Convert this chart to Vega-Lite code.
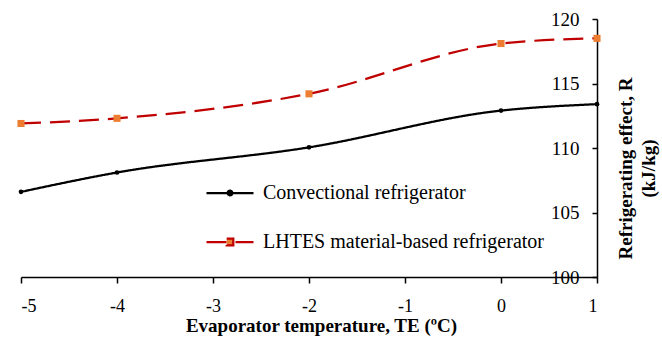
{
  "$schema": "https://vega.github.io/schema/vega-lite/v6.json",
  "width": 576,
  "height": 258,
  "autosize": {"type": "none"},
  "padding": {"left": 21, "top": 19, "right": 65, "bottom": 61},
  "background": "white",
  "config": {
    "view": {"stroke": null},
    "font": "Liberation Serif, Times New Roman, serif"
  },
  "data": {
    "values": [
      {"x": -5, "R": 106.6, "series": "Convectional refrigerator"},
      {"x": -4, "R": 108.1, "series": "Convectional refrigerator"},
      {"x": -2, "R": 110.05, "series": "Convectional refrigerator"},
      {"x": 0, "R": 112.9, "series": "Convectional refrigerator"},
      {"x": 1, "R": 113.4, "series": "Convectional refrigerator"},
      {"x": -5, "R": 111.9, "series": "LHTES material-based refrigerator"},
      {"x": -4, "R": 112.3, "series": "LHTES material-based refrigerator"},
      {"x": -2, "R": 114.2, "series": "LHTES material-based refrigerator"},
      {"x": 0, "R": 118.1, "series": "LHTES material-based refrigerator"},
      {"x": 1, "R": 118.5, "series": "LHTES material-based refrigerator"}
    ]
  },
  "encoding": {
    "x": {
      "field": "x", "type": "quantitative",
      "scale": {"domain": [-5, 1], "nice": false, "zero": false},
      "axis": {
        "values": [-5, -4, -3, -2, -1, 0, 1],
        "labelExpr": "datum.value",
        "grid": false,
        "domainColor": "#000000", "domainWidth": 1.5,
        "tickColor": "#000000", "tickSize": 6, "tickWidth": 1.5,
        "labelFont": "Liberation Serif, Times New Roman, serif", "labelFontSize": 18, "labelColor": "#000000",
        "labelPadding": 14,
        "title": "Evaporator temperature, TE (ºC)",
        "titleFont": "Liberation Serif, Times New Roman, serif", "titleFontSize": 19, "titleFontWeight": "bold", "titleColor": "#000000",
        "titlePadding": 1, "titleX": 300, "titleAlign": "center"
      }
    },
    "y": {
      "field": "R", "type": "quantitative",
      "scale": {"domain": [100, 120], "nice": false, "zero": false},
      "axis": {
        "orient": "left", "offset": -576,
        "values": [100, 105, 110, 115, 120],
        "grid": false,
        "domainColor": "#000000", "domainWidth": 1.5,
        "tickColor": "#000000", "tickSize": 5, "tickWidth": 1.5,
        "labelFont": "Liberation Serif, Times New Roman, serif", "labelFontSize": 19, "labelColor": "#000000",
        "labelPadding": 13,
        "title": ["Refrigerating effect, R", "(kJ/kg)"],
        "titleFont": "Liberation Serif, Times New Roman, serif", "titleFontSize": 19, "titleFontWeight": "bold", "titleColor": "#000000",
        "titleAngle": 270, "titleX": 28, "titleY": 149, "titleAlign": "center", "titleBaseline": "middle",
        "titleLineHeight": 23
      }
    }
  },
  "layer": [
    {
      "mark": {"type": "line", "interpolate": "monotone", "strokeWidth": 2.25},
      "encoding": {
        "stroke": {
          "field": "series", "type": "nominal",
          "scale": {"domain": ["Convectional refrigerator", "LHTES material-based refrigerator"], "range": ["#000000", "#C00000"]},
          "legend": {
            "orient": "none", "legendX": 184, "legendY": 149,
            "title": null, "padding": 0,
            "symbolSize": 2209, "symbolStrokeWidth": 2.25,
            "labelFont": "Liberation Serif, Times New Roman, serif", "labelFontSize": 20, "labelColor": "#000000",
            "labelOffset": 8, "rowPadding": 14, "labelLimit": 400,
            "encode": {
              "symbols": {
                "update": {
                  "fill": {"signal": "datum.value === 'Convectional refrigerator' ? '#000000' : '#ED7D31'"},
                  "fillOpacity": {"value": 1},
                  "shape": {"signal": "datum.value === 'Convectional refrigerator' ? 'M-1,0H1M0.1,0A0.1,0.1,0,1,1,-0.1,0A0.1,0.1,0,1,1,0.1,0Z' : 'M-1,0H1M-0.14,-0.14H0.14V0.14H-0.14Z'"},
                  "strokeDash": {"signal": "datum.value === 'Convectional refrigerator' ? [1,0] : [20,9]"}
                }
              }
            }
          }
        },
        "strokeDash": {
          "field": "series", "type": "nominal",
          "scale": {"domain": ["Convectional refrigerator", "LHTES material-based refrigerator"], "range": [[1, 0], [20, 9]]},
          "legend": null
        }
      }
    },
    {
      "transform": [{"filter": "datum.series === 'Convectional refrigerator'"}],
      "mark": {"type": "point", "shape": "circle", "filled": true, "size": 22, "color": "#000000", "opacity": 1}
    },
    {
      "transform": [{"filter": "datum.series === 'LHTES material-based refrigerator'"}],
      "mark": {"type": "point", "shape": "square", "filled": true, "size": 50, "color": "#ED7D31", "opacity": 1}
    }
  ]
}
